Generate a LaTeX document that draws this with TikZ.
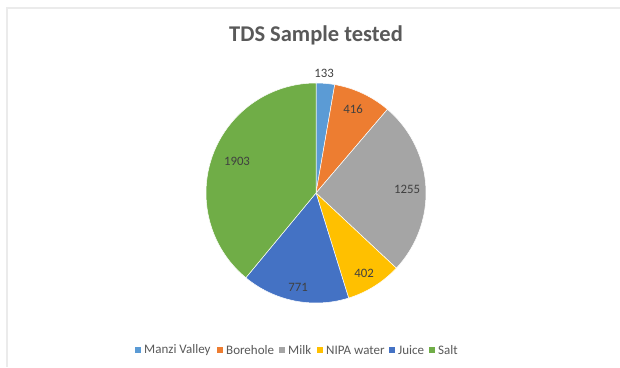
\documentclass[tikz,border=0pt]{standalone}
\usepackage{fontspec}
\setmainfont{Carlito}
\definecolor{cManzi}{HTML}{5B9BD5}
\definecolor{cBore}{HTML}{ED7D31}
\definecolor{cMilk}{HTML}{A5A5A5}
\definecolor{cNipa}{HTML}{FFC000}
\definecolor{cJuice}{HTML}{4472C4}
\definecolor{cSalt}{HTML}{70AD47}
\definecolor{txt}{HTML}{404040}
\definecolor{ttl}{HTML}{595959}
\definecolor{frame}{HTML}{EBEBEB}
\begin{document}
\begin{tikzpicture}[x=1pt,y=1pt,
  slice/.style={draw=white,line width=0.5pt,line join=round},
  val/.style={font=\fontsize{12.8}{15}\selectfont,text=txt,inner sep=0pt},
  legtxt/.style={font=\fontsize{13}{15}\selectfont,text=ttl,anchor=west,inner sep=0pt},
  legsq/.style={minimum size=6pt,inner sep=0pt,anchor=center}]
\useasboundingbox (0,0) rectangle (620,367);
\fill[white] (0,0) rectangle (620,367);
\draw[frame,line width=1.6pt] (7,0) -- (7,359) -- (620,359);
\coordinate (C) at (316,174);
\def\R{110}
\fill[cManzi,slice] (C) -- ++(90:\R) arc[start angle=90,end angle=80.19,radius=\R] -- cycle;
\fill[cBore,slice] (C) -- ++(80.19:\R) arc[start angle=80.19,end angle=49.50,radius=\R] -- cycle;
\fill[cMilk,slice] (C) -- ++(49.50:\R) arc[start angle=49.50,end angle=-43.08,radius=\R] -- cycle;
\fill[cNipa,slice] (C) -- ++(-43.08:\R) arc[start angle=-43.08,end angle=-72.74,radius=\R] -- cycle;
\fill[cJuice,slice] (C) -- ++(-72.74:\R) arc[start angle=-72.74,end angle=-129.62,radius=\R] -- cycle;
\fill[cSalt,slice] (C) -- ++(-129.62:\R) arc[start angle=-129.62,end angle=-270,radius=\R] -- cycle;
\node[font=\bfseries\fontsize{22.5}{26}\selectfont,text=ttl] (title) at (316,332) {TDS Sample tested};
\node[val] (v133) at (324,294) {133};
\node[val] (v416) at (353,258) {416};
\node[val] (v1903) at (237,206) {1903};
\node[val] (v1255) at (407,178) {1255};
\node[val] (v402) at (364,94) {402};
\node[val] (v771) at (298,80) {771};
\node[legsq,fill=cManzi] (s1) at (138,17) {};
\node[legtxt] (l1) at (144,17) {Manzi Valley};
\node[legsq,fill=cBore] (s2) at (220,17) {};
\node[legtxt] (l2) at (226,17) {Borehole};
\node[legsq,fill=cMilk] (s3) at (282,17) {};
\node[legtxt] (l3) at (288,17) {Milk};
\node[legsq,fill=cNipa] (s4) at (320,17) {};
\node[legtxt] (l4) at (326,17) {NIPA water};
\node[legsq,fill=cJuice] (s5) at (392,17) {};
\node[legtxt] (l5) at (398,17) {Juice};
\node[legsq,fill=cSalt] (s6) at (432,17) {};
\node[legtxt] (l6) at (438,17) {Salt};
\end{tikzpicture}
\end{document}
